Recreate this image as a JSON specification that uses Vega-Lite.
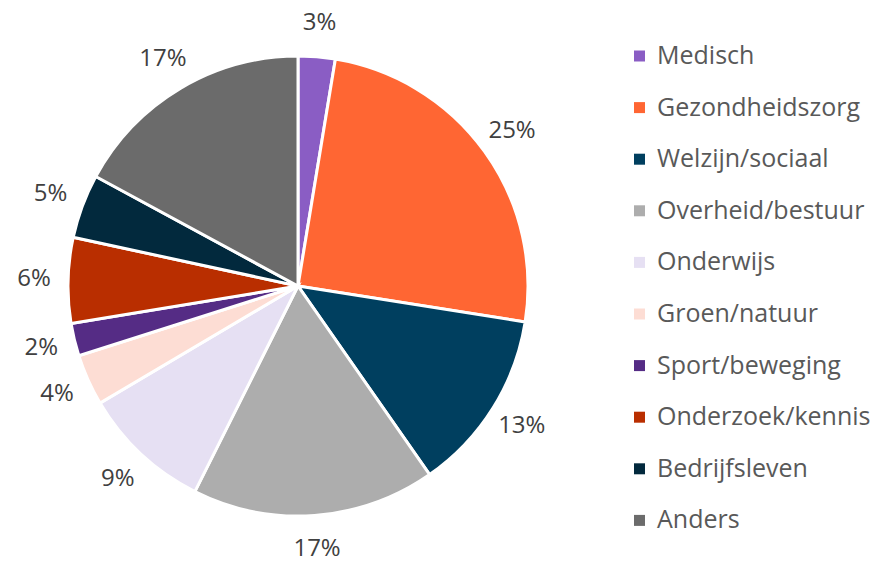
{
  "$schema": "https://vega.github.io/schema/vega-lite/v6.json",
  "width": 596,
  "height": 572,
  "autosize": "none",
  "padding": {"left": 0, "top": 0, "right": 276, "bottom": 0},
  "background": "white",
  "view": {"stroke": null},
  "data": {
    "values": [
      {"categorie": "Medisch", "value": 2.6, "label": "3%", "order": 1},
      {"categorie": "Gezondheidszorg", "value": 24.9, "label": "25%", "order": 2},
      {"categorie": "Welzijn/sociaal", "value": 12.8, "label": "13%", "order": 3},
      {"categorie": "Overheid/bestuur", "value": 17.1, "label": "17%", "order": 4},
      {"categorie": "Onderwijs", "value": 9.1, "label": "9%", "order": 5},
      {"categorie": "Groen/natuur", "value": 3.6, "label": "4%", "order": 6},
      {"categorie": "Sport/beweging", "value": 2.3, "label": "2%", "order": 7},
      {"categorie": "Onderzoek/kennis", "value": 6.0, "label": "6%", "order": 8},
      {"categorie": "Bedrijfsleven", "value": 4.5, "label": "5%", "order": 9},
      {"categorie": "Anders", "value": 17.1, "label": "17%", "order": 10}
    ]
  },
  "encoding": {
    "theta": {"field": "value", "type": "quantitative", "stack": true},
    "order": {"field": "order", "type": "quantitative"}
  },
  "layer": [
    {
      "mark": {"type": "arc", "outerRadius": 230, "stroke": "white", "strokeWidth": 3},
      "encoding": {
        "color": {
          "field": "categorie",
          "type": "nominal",
          "sort": null,
          "scale": {
            "domain": ["Medisch", "Gezondheidszorg", "Welzijn/sociaal", "Overheid/bestuur", "Onderwijs", "Groen/natuur", "Sport/beweging", "Onderzoek/kennis", "Bedrijfsleven", "Anders"],
            "range": ["#8A5DC4", "#FF6633", "#003F5F", "#ADADAD", "#E6E0F3", "#FDDDD4", "#552C85", "#B92E00", "#02293D", "#6B6B6B"]
          },
          "legend": {
            "title": null,
            "orient": "none",
            "legendX": 627,
            "legendY": 43.5,
            "symbolType": "square",
            "symbolSize": 121,
            "symbolStrokeWidth": 0,
            "labelFontSize": 25,
            "labelFont": "Open Sans",
            "labelColor": "#595959",
            "labelOffset": 5,
            "rowPadding": 25.6,
            "labelLimit": 300
          }
        }
      }
    },
    {
      "mark": {"type": "text", "radius": 264, "fontSize": 24, "font": "Open Sans", "color": "#404040"},
      "encoding": {"text": {"field": "label", "type": "nominal"}}
    }
  ]
}
